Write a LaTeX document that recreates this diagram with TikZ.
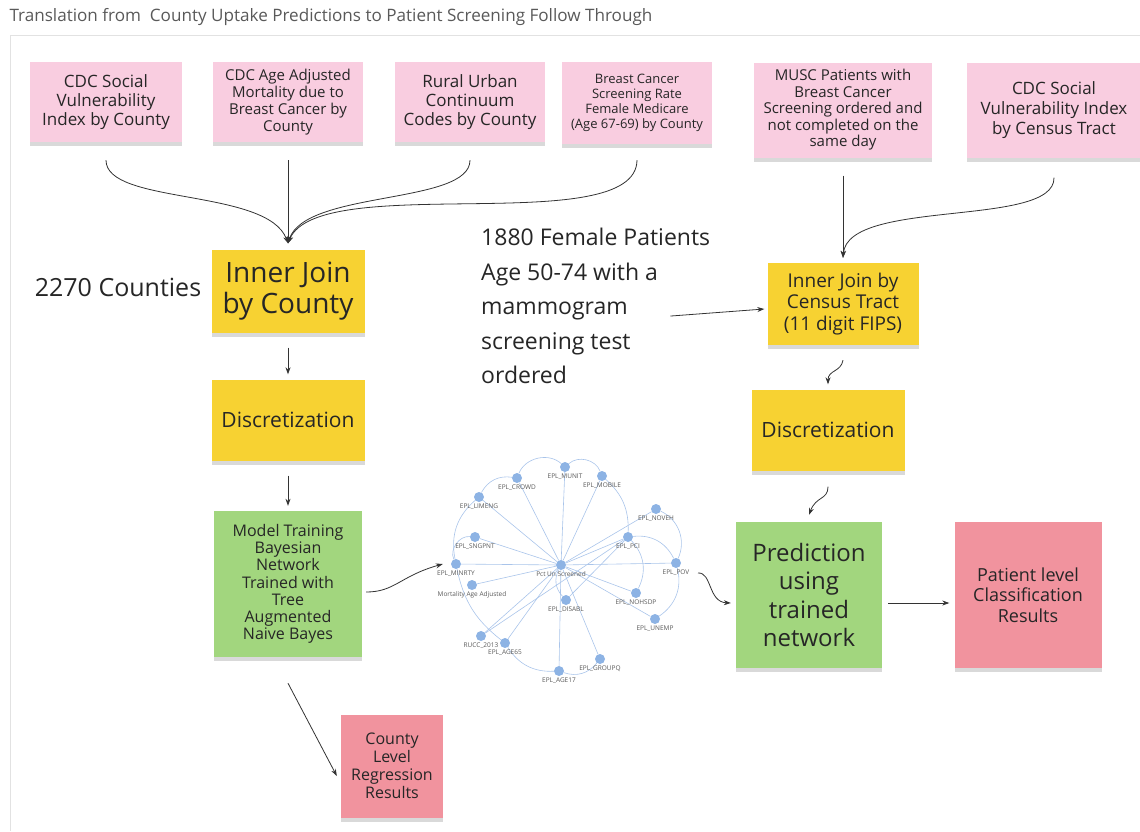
\documentclass[tikz,border=0pt]{standalone}
\usepackage{fontspec}
\setmainfont{Open Sans}
\usetikzlibrary{arrows.meta,shadows,backgrounds}
\definecolor{notepink}{HTML}{F9CDE0}
\definecolor{noteyellow}{HTML}{F7D232}
\definecolor{notegreen}{HTML}{A2D67E}
\definecolor{notered}{HTML}{F1939E}
\definecolor{bnblue}{HTML}{8DB3E4}
\definecolor{bnedge}{HTML}{A9C4EA}
\definecolor{framegray}{HTML}{E2E2E2}
\definecolor{inkgray}{HTML}{333333}
\newcommand{\fs}[2]{\fontsize{#1}{#2}\selectfont}
\begin{document}
\begin{tikzpicture}[x=1pt,y=-1pt,
    sticky/.style={minimum width=150pt, minimum height=80pt, inner sep=0pt, align=center,
        text=black!85, drop shadow={shadow xshift=0pt, shadow yshift=-4pt, opacity=.3}},
    srcnote/.style={sticky, fill=notepink},
    joinnote/.style={sticky, fill=noteyellow},
    trainnote/.style={sticky, fill=notegreen, minimum width=148pt, minimum height=146pt},
    resnote/.style={sticky, fill=notered},
    bn/.style={circle, fill=bnblue, inner sep=0pt, minimum size=10pt},
    bnlab/.style={text=black!65, font=\fs{6.5}{7}, inner sep=1pt, label distance=0pt},
    bnline/.style={draw=bnedge, line width=0.6pt},
    conn/.style={draw=inkgray, line width=0.8pt, -{Stealth[length=7pt,width=5pt]}},
    link/.style={draw=inkgray, line width=0.8pt}]
\useasboundingbox (0,0) rectangle (1140,831);
\draw[framegray, line width=1pt] (10,831) -- (10,35) -- (1145,35);
\node[anchor=west, text=black!65, font=\fs{17.1}{19}] (title) at (6,17)
    {Translation from~ County Uptake Predictions to Patient Screening Follow Through};

\node[srcnote, minimum width=152pt, font=\fs{17}{19}] (svicounty) at (106,102)
    {CDC Social\\Vulnerability\\Index by County};
\node[srcnote, font=\fs{15}{17}] (mortality) at (288,102)
    {CDC Age Adjusted\\Mortality due to\\Breast Cancer by\\County};
\node[srcnote, font=\fs{17}{19}] (rucc) at (470,102)
    {Rural Urban\\Continuum\\Codes by County};
\node[srcnote, minimum height=82pt, font=\fs{13}{15}] (medicare) at (637,103)
    {Breast Cancer\\Screening Rate\\Female Medicare\\(Age 67-69) by County};
\node[srcnote, minimum width=178pt, minimum height=95pt, font=\fs{15}{16.5}] (musc) at (843,110)
    {MUSC Patients with\\Breast Cancer\\Screening ordered and\\not completed on the\\same day};
\node[srcnote, minimum width=174pt, minimum height=95pt, font=\fs{17}{20}] (svitract) at (1054,110)
    {CDC Social\\Vulnerability Index\\by Census Tract};

\node[joinnote, minimum width=153pt, minimum height=83pt, font=\fs{28}{31}] (joincounty) at (288,291)
    {Inner Join\\by County};
\node[font=\fs{25}{28}, text=black!85] (counties) at (118,287) {2270 Counties};
\node[anchor=north west, align=left, font=\fs{23}{34.5}, text=black!85, inner sep=0pt] (patients) at (481,228)
    {1880 Female Patients\\Age 50-74 with a\\mammogram\\screening test\\ordered};
\node[joinnote, minimum width=151pt, minimum height=82pt, font=\fs{19}{21.5}] (jointract) at (843,304)
    {Inner Join by\\Census Tract\\(11 digit FIPS)};

\node[joinnote, minimum width=153pt, minimum height=81pt, font=\fs{21}{24}] (disccounty) at (288,420) {Discretization};
\node[joinnote, minimum width=153pt, minimum height=81pt, font=\fs{21}{24}] (disctract) at (828,430) {Discretization};

\node[trainnote, font=\fs{16}{17.2}] (training) at (288,584)
    {Model Training\\Bayesian\\Network\\Trained with\\Tree\\Augmented\\Naive Bayes};
\node[trainnote, minimum width=146pt, font=\fs{24}{28.3}] (predict) at (809,595)
    {Prediction\\using\\trained\\network};
\node[resnote, minimum width=147pt, minimum height=146pt, font=\fs{18}{20.5}] (patientres) at (1028,595)
    {Patient level\\Classification\\Results};
\node[resnote, minimum width=102pt, minimum height=103pt, font=\fs{16}{18}] (countyres) at (392,766)
    {County\\Level\\Regression\\Results};

\node[bn, label={[bnlab]below:Pct Un Screened}] (pct) at (561,565) {};
\node[bn, label={[bnlab]below:EPL\_CROWD}] (crowd) at (517,478) {};
\node[bn, label={[bnlab]below:EPL\_LIMENG}] (limeng) at (479,497) {};
\node[bn, label={[bnlab]below:EPL\_SNGPNT}] (sngpnt) at (475,537) {};
\node[bn, label={[bnlab]below:EPL\_MINRTY}] (minrty) at (456,564) {};
\node[bn, label={[bnlab]below:Mortality Age Adjusted}] (mort) at (472,585) {};
\node[bn, label={[bnlab]below:RUCC\_2013}] (rucc13) at (481,636) {};
\node[bn, label={[bnlab]below:EPL\_AGE65}] (age65) at (505,643) {};
\node[bn, label={[bnlab]below:EPL\_AGE17}] (age17) at (559,671) {};
\node[bn, label={[bnlab]below:EPL\_GROUPQ}] (groupq) at (600,659) {};
\node[bn, label={[bnlab]below:EPL\_DISABL}] (disabl) at (566,600) {};
\node[bn, label={[bnlab]below:EPL\_NOHSDP}] (nohsdp) at (636,593) {};
\node[bn, label={[bnlab]below:EPL\_UNEMP}] (unemp) at (655,619) {};
\node[bn, label={[bnlab]below:EPL\_POV}] (pov) at (676,563) {};
\node[bn, label={[bnlab]below:EPL\_PCI}] (pci) at (628,537) {};
\node[bn, label={[bnlab]below:EPL\_NOVEH}] (noveh) at (656,509) {};
\node[bn, label={[bnlab]below:EPL\_MOBILE}] (mobile) at (602,476) {};
\node[bn, label={[bnlab]below:EPL\_MUNIT}] (munit) at (565,467) {};

\begin{scope}[on background layer]
\foreach \v in {crowd,limeng,sngpnt,minrty,mort,rucc13,age65,age17,groupq,nohsdp,unemp,pov,pci,noveh,mobile,munit}
    \draw[bnline] (pct) -- (\v);
\draw[bnline] (crowd) to[bend left=55] (munit);
\draw[bnline] (munit) to[bend left=55] (mobile);
\draw[bnline] (mobile) to[bend left=25] (pci);
\draw[bnline] (pci) to[bend left=35] (pov);
\draw[bnline] (noveh) to[bend left=45] (pov);
\draw[bnline] (pov) to[bend left=35] (unemp);
\draw[bnline] (pci) to[bend left=35] (nohsdp);
\draw[bnline] (crowd) to[bend right=35] (limeng);
\draw[bnline] (limeng) to[bend right=30] (minrty);
\draw[bnline] (sngpnt) to[bend right=60] (minrty);
\draw[bnline] (minrty) to[bend right=20] (age65);
\draw[bnline] (age65) to[bend right=30] (age17);
\draw[bnline] (age17) to[bend right=35] (groupq);
\draw[bnline] (pct) to[bend right=35] (disabl);
\draw[bnline] (disabl) -- (pci);
\draw[bnline] (rucc13) -- (pci);
\end{scope}

\draw[conn] ([yshift=-18pt]svicounty.south) .. controls (106,205) and (268,188) .. ([yshift=6pt]joincounty.north);
\draw[conn] ([yshift=-18pt]mortality.south) -- ([yshift=6pt]joincounty.north);
\draw[conn] ([yshift=-18pt]rucc.south) .. controls (470,205) and (305,190) .. ([yshift=6pt]joincounty.north);
\draw[conn] ([yshift=-16pt]medicare.south) .. controls (636,240) and (318,170) .. ([yshift=6pt]joincounty.north);
\draw[conn] ([yshift=-18pt]musc.south) -- ([yshift=5pt]jointract.north);
\draw[conn] ([yshift=-20pt]svitract.south) .. controls (1055,228) and (848,198) .. ([yshift=5pt]jointract.north);
\draw[conn] ([xshift=-40pt,yshift=-10pt]patients.east) -- ([xshift=-3pt,yshift=-5pt]jointract.west);
\draw[conn] ([yshift=-15pt]joincounty.south) -- ([yshift=5pt]disccounty.north);
\draw[conn] ([yshift=-15pt]disccounty.south) -- ([yshift=5pt]training.north);
\draw[conn] ([yshift=-15pt]jointract.south) .. controls (841,372) and (828,370) .. ([yshift=5pt]disctract.north);
\draw[conn] ([yshift=-16pt]disctract.south) .. controls (828,500) and (816,496) .. ([yshift=7pt]predict.north);
\draw[conn] ([xshift=4pt,yshift=-8pt]training.east) .. controls (395,592) and (400,576) .. ([xshift=-8pt]minrty.west);
\draw[conn] ([xshift=22pt,yshift=-10pt]pov.center) .. controls (712,572) and (708,602) .. ([xshift=-5pt,yshift=-8pt]predict.west);
\draw[conn] ([xshift=6pt,yshift=-8pt]predict.east) -- ([xshift=-5pt,yshift=-8pt]patientres.west);
\draw[conn] ([yshift=-26pt]training.south) -- ([xshift=-4pt,yshift=-10pt]countyres.west);
\end{tikzpicture}
\end{document}
